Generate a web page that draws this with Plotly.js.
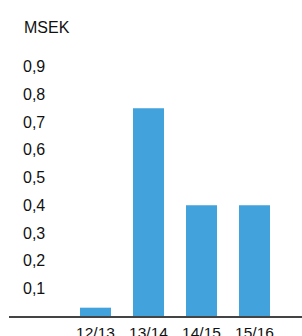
<!DOCTYPE html>
<html>
<head>
<meta charset="utf-8">
<script src="https://cdn.plot.ly/plotly-3.0.1.min.js"></script>
<style>
html,body{margin:0;padding:0;background:#fff;}
#chart{width:302px;height:336px;}
</style>
</head>
<body>
<div id="chart"></div>
<script>
const categories = ['12/13', '13/14', '14/15', '15/16'];
const values = [0.03, 0.75, 0.40, 0.40];
const tickValues = [0.1, 0.2, 0.3, 0.4, 0.5, 0.6, 0.7, 0.8, 0.9];
const tickLabels = ['0,1', '0,2', '0,3', '0,4', '0,5', '0,6', '0,7', '0,8', '0,9'];
const unitLabel = 'MSEK';

const FONT = 'Liberation Sans, Arial, Helvetica, sans-serif';

const trace = {
  type: 'bar',
  x: categories.map((c, i) => i),
  y: values,
  marker: {color: '#42a2db', line: {width: 0}},
  hoverinfo: 'skip'
};

const layout = {
  width: 302,
  height: 336,
  margin: {l: 9, r: 0, t: 39, b: 20, pad: 0},
  paper_bgcolor: '#ffffff',
  plot_bgcolor: '#ffffff',
  showlegend: false,
  bargap: 0.415,
  font: {family: FONT, size: 15, color: '#111111'},
  xaxis: {
    range: [-1.632, 3.896],
    tickmode: 'array',
    tickvals: categories.map((c, i) => i),
    ticktext: categories,
    showgrid: false,
    zeroline: false,
    showline: true,
    linecolor: '#444444',
    linewidth: 2,
    ticks: '',
    ticklabelstandoff: 1,
    tickfont: {family: FONT, size: 15.5, color: '#111111'},
    automargin: false,
    fixedrange: true
  },
  yaxis: {
    range: [0, 1.0],
    tickmode: 'array',
    tickvals: tickValues,
    ticktext: tickLabels,
    showgrid: false,
    zeroline: false,
    showline: false,
    ticks: '',
    ticklabelposition: 'inside',
    ticklabelstandoff: 11,
    tickfont: {family: FONT, size: 16, color: '#111111'},
    automargin: false,
    fixedrange: true
  },
  annotations: [{
    text: unitLabel,
    xref: 'paper', yref: 'paper',
    x: 0, y: 1,
    xshift: 13, yshift: 12,
    xanchor: 'left', yanchor: 'middle',
    showarrow: false,
    font: {family: FONT, size: 16, color: '#111111'}
  }]
};

Plotly.newPlot('chart', [trace], layout, {displayModeBar: false, staticPlot: true});
</script>
</body>
</html>
